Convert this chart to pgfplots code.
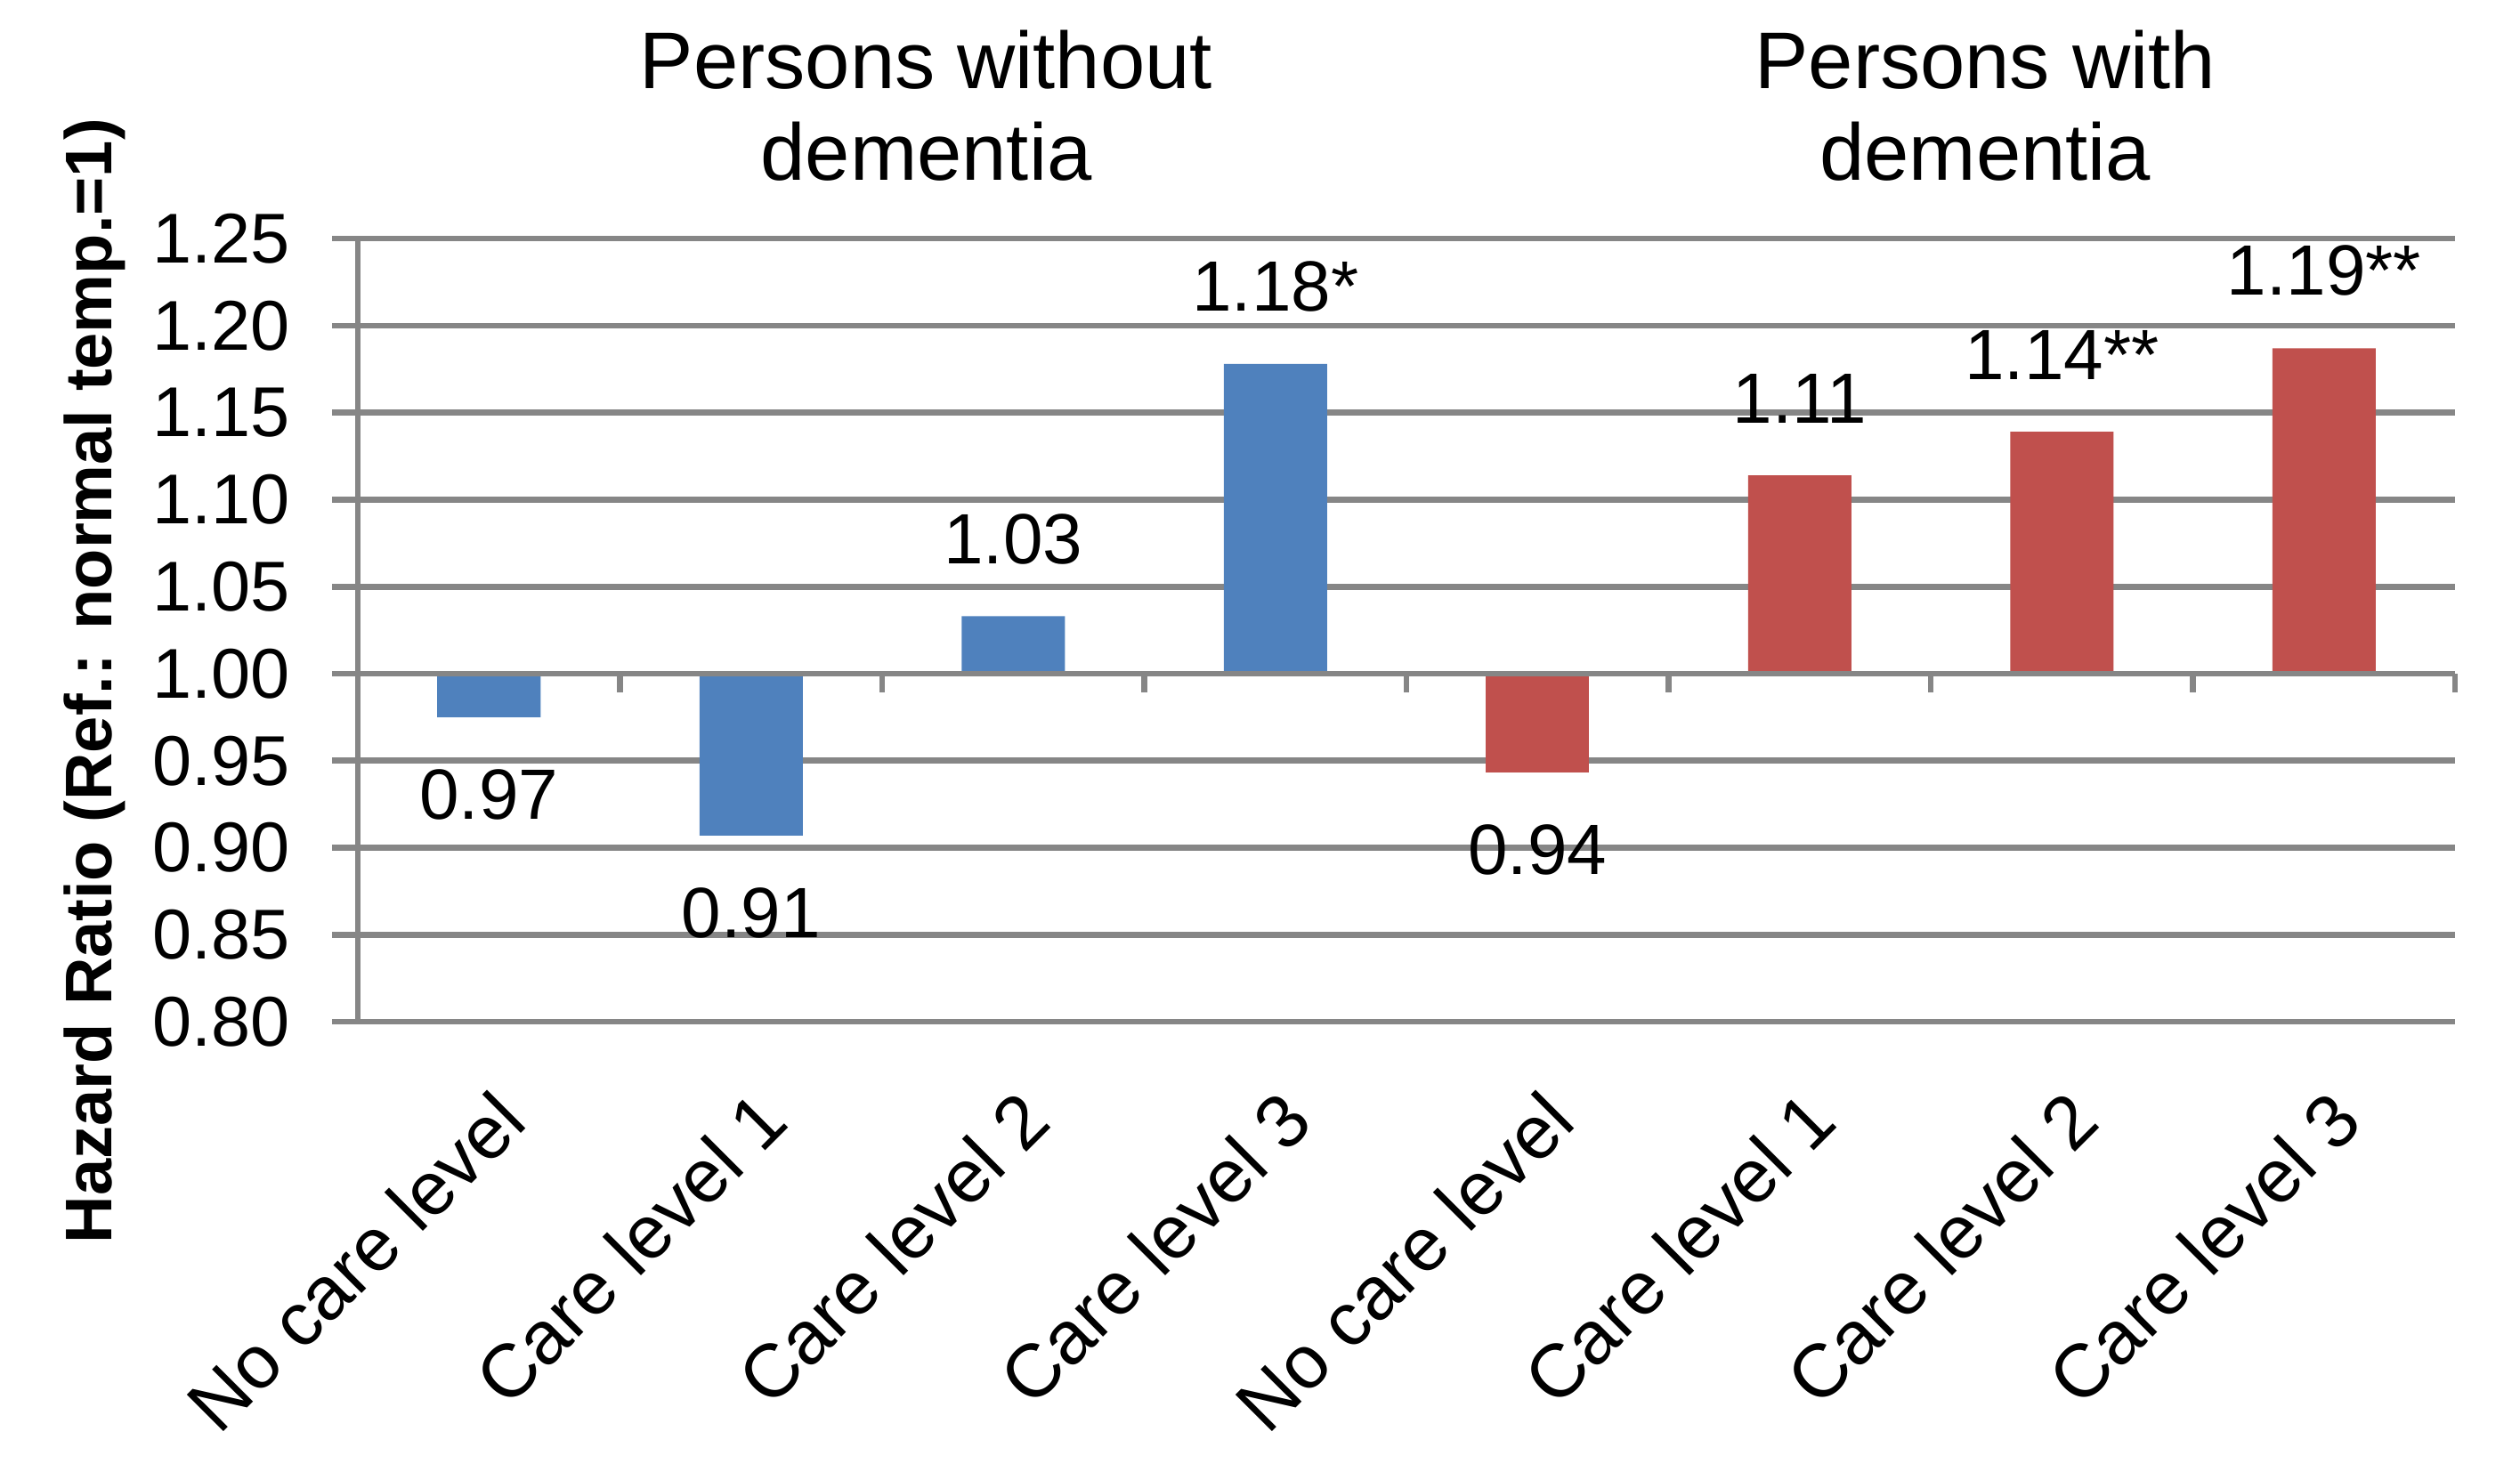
\documentclass[border=0pt]{standalone}
\usepackage{pgfplots}
\pgfplotsset{compat=1.18}
\usepackage{pgfplotstable}
\usepackage{fontspec}
\setmainfont{Liberation Sans}
\definecolor{gridc}{HTML}{868686}
\definecolor{barblue}{HTML}{4F81BD}
\definecolor{barred}{HTML}{C0504D}

% Persons without dementia
\pgfplotstableread{
x y lab
0 0.975 0.97
1 0.907 0.91
}\withoutneg
\pgfplotstableread{
x y lab
2 1.033 1.03
3 1.178 1.18*
}\withoutpos
% Persons with dementia
\pgfplotstableread{
x y lab
4 0.943 0.94
}\withneg
\pgfplotstableread{
x y lab
5 1.114 1.11
6 1.139 1.14**
7 1.187 1.19**
}\withpos

\begin{document}
\begin{tikzpicture}
\begin{axis}[
  at={(0,0)}, anchor=south west,
  scale only axis, width=318.06pt, height=118.8pt,
  xmin=-0.5, xmax=7.5, ymin=-0.2, ymax=0.25,
  y filter/.expression={y-1},
  clip=false,
  axis y line*=left, axis x line*=bottom,
  axis line style={gridc, line width=0.9pt, -},
  ymajorgrids, grid style={gridc, line width=0.9pt},
  ytick={-0.2,-0.15,-0.1,-0.05,0,0.05,0.1,0.15,0.2,0.25},
  yticklabels={0.80,0.85,0.90,0.95,1.00,1.05,1.10,1.15,1.20,1.25},
  tick align=outside, major tick length=3.9pt,
  tick style={gridc, line width=0.9pt},
  yticklabel style={font=\fontsize{10.7}{12}\selectfont, anchor=east, inner sep=0pt, xshift=-6.2pt},
  xtick=\empty,
  extra x ticks={0,1,2,3,4,5,6,7},
  extra x tick labels={No care level,Care level 1,Care level 2,Care level 3,No care level,Care level 1,Care level 2,Care level 3},
  extra x tick style={major tick length=0pt, tick style={draw=none},
    xticklabel style={font=\fontsize{11.4}{13}\selectfont, inner sep=0pt, xshift=3.4pt, yshift=-12.7pt, anchor=east, rotate=45}},
  ybar, bar width=0.394, bar shift=0pt,
  nodes near coords, point meta=explicit symbolic,
  every node near coord/.append style={font=\fontsize{10.8}{12}\selectfont, inner ysep=7.7pt, text=black},
  every axis y label/.style={at={([xshift=-37.3pt]rel axis cs:0,0.435)}, rotate=90, anchor=base},
  ylabel={\fontsize{10}{12}\selectfont\bfseries Hazard Ratio (Ref.: normal temp.=1)},
]
\addplot[fill=barblue, draw=none, nodes near coords style={anchor=north}] table[x=x, y=y, meta=lab]{\withoutneg};
\addplot[fill=barblue, draw=none, nodes near coords style={anchor=south}] table[x=x, y=y, meta=lab]{\withoutpos};
\addplot[fill=barred, draw=none, nodes near coords style={anchor=north}] table[x=x, y=y, meta=lab]{\withneg};
\addplot[fill=barred, draw=none, nodes near coords style={anchor=south}] table[x=x, y=y, meta=lab]{\withpos};
\node[anchor=base, font=\fontsize{12.2}{14}\selectfont] at (rel axis cs:0.271,1.1915) {Persons without};
\node[anchor=base, font=\fontsize{12.2}{14}\selectfont] at (rel axis cs:0.271,1.0741) {dementia};
\node[anchor=base, font=\fontsize{12.2}{14}\selectfont] at (rel axis cs:0.776,1.1915) {Persons with};
\node[anchor=base, font=\fontsize{12.2}{14}\selectfont] at (rel axis cs:0.776,1.0741) {dementia};
\end{axis}
\begin{axis}[
  at={(0,0)}, anchor=south west,
  scale only axis, width=318.06pt, height=118.8pt,
  xmin=-0.5, xmax=7.5, ymin=-0.2, ymax=0.25,
  axis x line=middle, axis y line=none,
  axis line style={gridc, line width=0.9pt, -},
  xtick={-0.5,0.5,1.5,2.5,3.5,4.5,5.5,6.5,7.5}, xticklabels={},
  ytick=\empty,
  tick align=outside, major tick length=2.8pt,
  tick style={gridc, line width=0.9pt},
]
\end{axis}
\pgfresetboundingbox
\path[use as bounding box] (-54.27pt,-68.18pt) rectangle (327.9pt,154.98pt);
\end{tikzpicture}
\end{document}
